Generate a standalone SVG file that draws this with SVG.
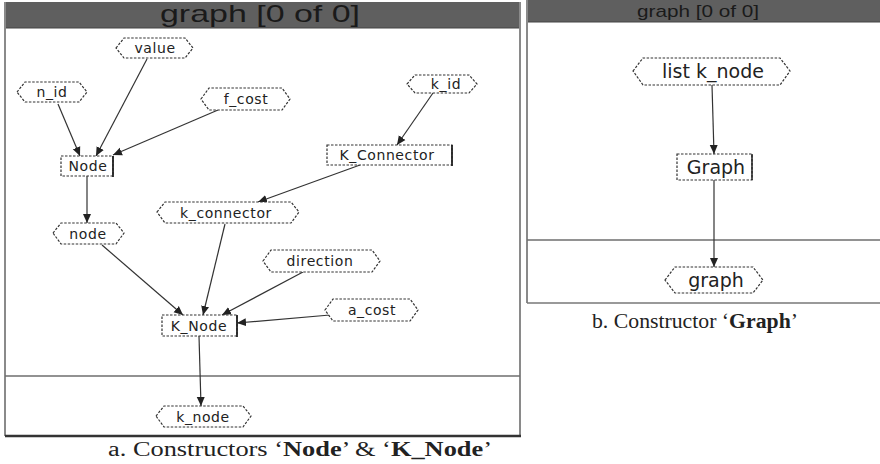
<svg xmlns="http://www.w3.org/2000/svg" width="880" height="464" viewBox="0 0 880 464">
<style>
.bg{fill:#fff}
.bar{fill:#5f5f5f}
.frame{fill:none;stroke:#8a8a8a;stroke-width:2}
.sep{stroke:#6e6e6e;stroke-width:1.5}
.hex{fill:#fff;stroke:#333;stroke-width:1.2;stroke-dasharray:2.5 1.5}
.box{fill:#fff;stroke:#333;stroke-width:1.2;stroke-dasharray:2.5 1.5}
.edge{stroke:#333;stroke-width:1.2;fill:none}
.lbl{font-family:"DejaVu Sans",sans-serif;font-size:14px;letter-spacing:0.6px;fill:#222;text-anchor:middle}
.lblb{font-family:"DejaVu Sans",sans-serif;font-size:19px;fill:#222;text-anchor:middle}
.cap{font-family:"Liberation Serif",serif;font-size:20px;fill:#222}
.title{font-family:"Liberation Sans",sans-serif;fill:#1a1a1a;text-anchor:middle}
</style>
<defs>
<marker id="ah" markerWidth="10" markerHeight="10" refX="9" refY="5" orient="auto" markerUnits="userSpaceOnUse">
<path d="M0,1 L9,5 L0,9 Z" fill="#222"/>
</marker>
</defs>
<rect x="0" y="0" width="880" height="464" class="bg"/>

<!-- Panel a -->
<g id="panel-a">
<rect x="5" y="2" width="515" height="26" class="bar"/>
<text x="260" y="22" class="title" font-size="24" textLength="200" lengthAdjust="spacingAndGlyphs">graph [0 of 0]</text>
<line x1="5" y1="28" x2="520" y2="28" stroke="#444" stroke-width="1"/>
<line x1="5" y1="2" x2="5" y2="436" class="frame"/>
<line x1="520" y1="2" x2="520" y2="436" class="frame"/>
<line x1="5" y1="376" x2="520" y2="376" class="sep"/>
<line x1="5" y1="436" x2="521" y2="436" stroke="#333" stroke-width="2.5"/>
</g>

<!-- Panel b -->
<g id="panel-b">
<rect x="527" y="0" width="353" height="22" class="bar"/>
<text x="698" y="17" class="title" font-size="17" textLength="122" lengthAdjust="spacingAndGlyphs">graph [0 of 0]</text>
<line x1="527" y1="22" x2="880" y2="22" stroke="#444" stroke-width="1"/>
<line x1="527" y1="0" x2="527" y2="303" class="frame"/>
<line x1="527" y1="240" x2="880" y2="240" class="sep"/>
<line x1="527" y1="303" x2="880" y2="303" stroke="#777" stroke-width="1.5"/>
</g>

<!-- Connectors -->
<g id="connectors">
<line x1="58" y1="104" x2="80" y2="156" class="edge" marker-end="url(#ah)"/>
<line x1="147" y1="59" x2="96" y2="156" class="edge" marker-end="url(#ah)"/>
<line x1="218" y1="110" x2="113" y2="155" class="edge" marker-end="url(#ah)"/>
<line x1="433" y1="93" x2="397" y2="145" class="edge" marker-end="url(#ah)"/>
<line x1="360" y1="165" x2="258" y2="202" class="edge" marker-end="url(#ah)"/>
<line x1="87" y1="176" x2="87" y2="223" class="edge" marker-end="url(#ah)"/>
<line x1="102" y1="245" x2="183" y2="315" class="edge" marker-end="url(#ah)"/>
<line x1="225" y1="224" x2="203" y2="315" class="edge" marker-end="url(#ah)"/>
<line x1="303" y1="272" x2="222" y2="315" class="edge" marker-end="url(#ah)"/>
<line x1="330" y1="315" x2="237" y2="323" class="edge" marker-end="url(#ah)"/>
<line x1="199" y1="336" x2="201" y2="406" class="edge" marker-end="url(#ah)"/>
<line x1="712" y1="85" x2="714" y2="154" class="edge" marker-end="url(#ah)"/>
<line x1="714" y1="180" x2="714" y2="267" class="edge" marker-end="url(#ah)"/>
</g>

<!-- Nodes panel a -->
<g id="n-value"><polygon class="hex" points="116,48 124,38 185,38 193,48 185,58 124,58"/><text class="lbl" x="155" y="53">value</text></g>
<g id="n-n_id"><polygon class="hex" points="17,92 25,82 79,82 87,92 79,102 25,102"/><text class="lbl" x="52" y="97">n_id</text></g>
<g id="n-f_cost"><polygon class="hex" points="201,99 209,88 282,88 290,99 282,110 209,110"/><text class="lbl" x="246" y="104">f_cost</text></g>
<g id="n-k_id"><polygon class="hex" points="407,84 415,75 469,75 477,84 469,93 415,93"/><text class="lbl" x="446" y="89">k_id</text></g>
<g id="n-Node"><rect class="box" x="61" y="156" width="52" height="20"/><line x1="113" y1="156" x2="113" y2="177" stroke="#222" stroke-width="1.8"/><text class="lbl" x="88" y="171">Node</text></g>
<g id="n-K_Connector"><rect class="box" x="327" y="145" width="125" height="20"/><line x1="452" y1="145" x2="452" y2="166" stroke="#222" stroke-width="1.8"/><text class="lbl" x="387" y="160">K_Connector</text></g>
<g id="n-k_connector"><polygon class="hex" points="157,212 165,202 291,202 299,212 291,223 165,223"/><text class="lbl" x="226" y="218">k_connector</text></g>
<g id="n-node"><polygon class="hex" points="53,233 61,223 116,223 124,233 116,244 61,244"/><text class="lbl" x="88" y="239">node</text></g>
<g id="n-direction"><polygon class="hex" points="263,261 271,250 372,250 380,261 372,272 271,272"/><text class="lbl" x="320" y="266">direction</text></g>
<g id="n-a_cost"><polygon class="hex" points="325,310 333,299 410,299 418,310 410,321 333,321"/><text class="lbl" x="372" y="315">a_cost</text></g>
<g id="n-K_Node"><rect class="box" x="162" y="315" width="75" height="21"/><line x1="237" y1="315" x2="237" y2="337" stroke="#222" stroke-width="1.8"/><text class="lbl" x="199" y="331">K_Node</text></g>
<g id="n-k_node"><polygon class="hex" points="156,416 164,406 243,406 251,416 243,427 164,427"/><text class="lbl" x="203" y="422">k_node</text></g>

<!-- Nodes panel b -->
<g id="n-list_k_node"><polygon class="hex" points="633,71 643,58 780,58 790,71 780,85 643,85"/><text class="lblb" x="713" y="78">list k_node</text></g>
<g id="n-Graph"><rect class="box" x="677" y="154" width="75" height="26"/><line x1="752" y1="154" x2="752" y2="180" stroke="#222" stroke-width="1.5"/><text class="lblb" x="716" y="174">Graph</text></g>
<g id="n-graph"><polygon class="hex" points="665,280 675,267 753,267 763,280 753,293 675,293"/><text class="lblb" x="716" y="287">graph</text></g>

<!-- Captions -->
<text class="cap" x="108" y="456" textLength="384" lengthAdjust="spacingAndGlyphs">a. Constructors ‘<tspan font-weight="bold">Node</tspan>’ &amp;  ‘<tspan font-weight="bold">K_Node</tspan>’</text>
<text class="cap" x="592" y="328" textLength="206" lengthAdjust="spacingAndGlyphs">b. Constructor ‘<tspan font-weight="bold">Graph</tspan>’</text>
</svg>
